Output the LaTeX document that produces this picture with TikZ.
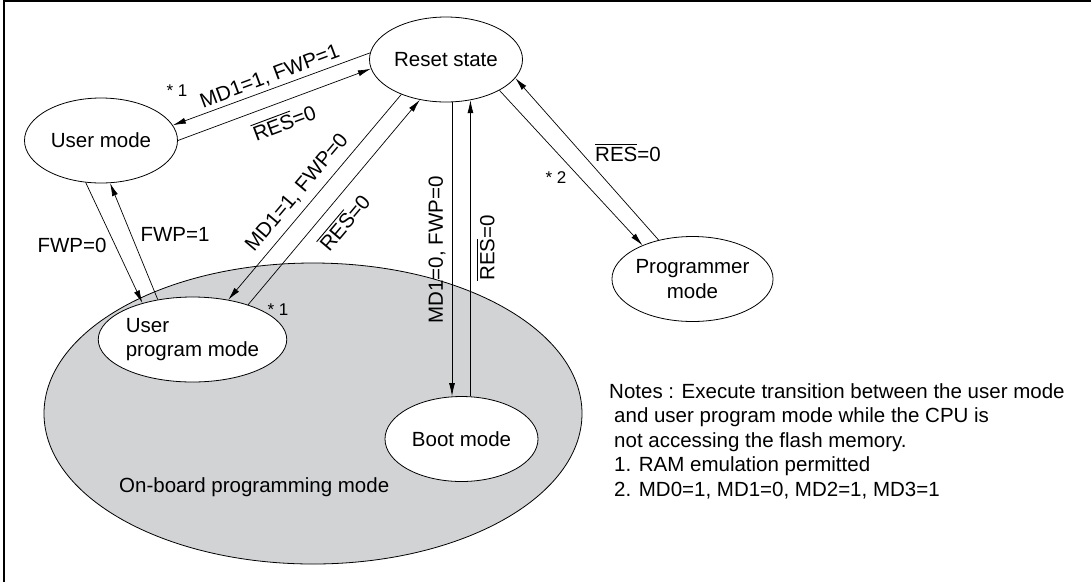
\documentclass[tikz,border=0pt]{standalone}
\usepackage{fontspec}
\setmainfont{Liberation Sans}
\usetikzlibrary{arrows.meta,shapes.geometric}
\definecolor{obgray}{RGB}{210,211,213}
\newcommand{\ovl}[1]{\leavevmode\vbox{\hrule height 0.9pt\kern1.8pt\hbox{#1}}}
\begin{document}
\begin{tikzpicture}[x=1pt,y=-1pt, font=\fontsize{20.5}{24.5}\selectfont,
  state/.style={ellipse, draw, line width=0.8pt, fill=white, minimum width=153pt, minimum height=85pt, inner sep=0pt},
  conn/.style={line width=0.7pt, -{Latex[length=13pt,width=6pt]}},
  lbl/.style={inner sep=0pt},
  star/.style={inner sep=0pt, font=\fontsize{17}{19}\selectfont}]
\useasboundingbox (0,0) rectangle (1091,582);
\draw[line width=2pt] (4,582) -- (4,1) -- (1091,1);
\node[ellipse, draw, line width=0.8pt, fill=obgray, minimum width=538pt, minimum height=301pt, inner sep=0pt] (onboard) at (313,413.5) {};
\node[state] (reset) at (446,59.5) {Reset state};
\node[state] (user) at (101,140.5) {User mode};
\node[state, align=left] (upm) at (192.5,339.5) {User\\program mode};
\node[state, align=center] (prog) at (692.5,279) {Programmer\\mode};
\node[state] (boot) at (461.5,439) {Boot mode};
\draw[conn] (reset.175) -- (user.12);
\draw[conn] (user.0) -- (reset.187);
\draw[conn] (user.250) -- (upm.144);
\draw[conn] (upm.131) -- (user.282);
\draw[conn] (reset.218) -- (upm.48);
\draw[conn] (upm.32) -- (reset.237);
\draw[conn] (reset.278) -- (reset.278 |- boot.north);
\draw[conn] (reset.301 |- boot.north) -- (reset.301);
\draw[conn] (reset.330) -- (prog.146);
\draw[conn] (prog.131) -- (reset.345);
\node[lbl, rotate=20.5] (l1) at (270,77) {MD1=1, FWP=1};
\node[lbl, rotate=20.5] (l2) at (284,122) {\ovl{RES}=0};
\node[star] (s1) at (177,91) {* 1};
\node[lbl] (l3) at (72,245) {FWP=0};
\node[lbl] (l4) at (175,234) {FWP=1};
\node[lbl, rotate=49.8] (l5) at (297,193) {MD1=1, FWP=0};
\node[lbl, rotate=49.8] (l6) at (344,222) {\ovl{RES}=0};
\node[star] (s2) at (278,310) {* 1};
\node[lbl, rotate=90] (l7) at (437,250) {MD1=0, FWP=0};
\node[lbl, rotate=90] (l8) at (486,248) {\ovl{RES}=0};
\node[lbl] (l9) at (628,153) {\ovl{RES}=0};
\node[star] (s3) at (556,178) {* 2};
\node[lbl, anchor=base west] (obl) at (119,492) {On-board programming mode};
\node[lbl, anchor=base west, align=left] (notes) at (609,496) {Notes : Execute transition between the user mode\\
\hspace*{5pt}and user program mode while the CPU is\\
\hspace*{5pt}not accessing the flash memory.\\
\hspace*{5pt}1. RAM emulation permitted\\
\hspace*{5pt}2. MD0=1, MD1=0, MD2=1, MD3=1};
\end{tikzpicture}
\end{document}
